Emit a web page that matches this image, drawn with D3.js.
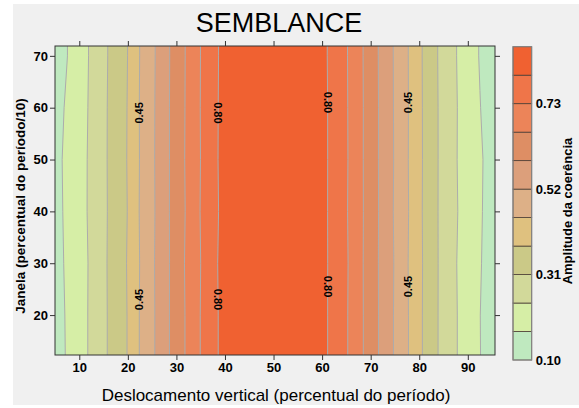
<!DOCTYPE html>
<html>
<head>
<meta charset="utf-8">
<script src="https://cdn.jsdelivr.net/npm/d3@7"></script>
<style>
    body { margin: 0; background: #fff; }
    svg { display: block; font-family: "Liberation Sans", Arial, sans-serif; }
    .axis text { font-size: 13px; font-weight: bold; fill: #000; }
    .axis line { stroke: #333; }
    .axis path { display: none; }
    .clbl { font-size: 11px; font-weight: bold; fill: #000; }
</style>
</head>
<body>
<div id="chart"></div>
<script>
// grid: columns = deslocamento (%), rows = janela
const xCols = [2.5, 5, 7.5, 10, 12.5, 15, 17.5, 20, 22.5, 25, 27.5, 30, 32.5, 35, 37.5, 40, 42.5, 45, 47.5, 50,
    52.5, 55, 57.5, 60, 62.5, 65, 67.5, 70, 72.5, 75, 77.5, 80, 82.5, 85, 87.5, 90, 92.5, 95, 97.5];
const yRows = [10, 20, 30, 40, 50, 60, 70, 80];

const semblance = [
    [0.105,0.140,0.175,0.210,0.253,0.297,0.340,0.383,0.454,0.507,0.566,0.622,0.676,0.732,0.784,0.820,0.840,0.855,0.862,0.865,0.862,0.855,0.840,0.815,0.782,0.736,0.682,0.626,0.570,0.513,0.457,0.395,0.337,0.288,0.245,0.208,0.172,0.135,0.100],
    [0.105,0.140,0.177,0.210,0.253,0.297,0.340,0.383,0.454,0.507,0.566,0.622,0.676,0.732,0.784,0.820,0.840,0.855,0.862,0.865,0.862,0.855,0.840,0.815,0.782,0.736,0.682,0.626,0.570,0.513,0.457,0.395,0.337,0.288,0.245,0.208,0.171,0.135,0.100],
    [0.106,0.142,0.181,0.212,0.251,0.299,0.338,0.385,0.452,0.509,0.564,0.624,0.678,0.730,0.786,0.821,0.841,0.856,0.862,0.865,0.862,0.856,0.841,0.817,0.780,0.738,0.680,0.628,0.568,0.515,0.455,0.397,0.335,0.290,0.243,0.210,0.175,0.137,0.101],
    [0.107,0.145,0.184,0.213,0.255,0.296,0.341,0.382,0.455,0.506,0.567,0.621,0.675,0.733,0.783,0.819,0.840,0.855,0.862,0.865,0.862,0.855,0.840,0.814,0.783,0.735,0.683,0.625,0.571,0.512,0.458,0.394,0.338,0.287,0.246,0.212,0.178,0.139,0.102],
    [0.108,0.147,0.186,0.214,0.254,0.298,0.339,0.384,0.453,0.508,0.565,0.623,0.677,0.731,0.785,0.820,0.841,0.856,0.863,0.866,0.863,0.856,0.841,0.816,0.781,0.737,0.681,0.627,0.569,0.514,0.456,0.396,0.336,0.289,0.244,0.211,0.180,0.140,0.103],
    [0.106,0.143,0.179,0.211,0.252,0.297,0.340,0.383,0.454,0.507,0.566,0.622,0.676,0.732,0.784,0.820,0.840,0.855,0.862,0.865,0.862,0.855,0.840,0.815,0.782,0.736,0.682,0.626,0.570,0.513,0.457,0.395,0.337,0.288,0.245,0.209,0.172,0.136,0.101],
    [0.104,0.137,0.169,0.208,0.250,0.295,0.339,0.381,0.452,0.505,0.565,0.621,0.675,0.731,0.783,0.819,0.840,0.855,0.862,0.865,0.862,0.855,0.840,0.814,0.781,0.735,0.681,0.625,0.569,0.512,0.456,0.394,0.336,0.286,0.243,0.205,0.166,0.132,0.099],
    [0.104,0.137,0.169,0.208,0.250,0.295,0.339,0.381,0.452,0.505,0.565,0.621,0.675,0.731,0.783,0.819,0.840,0.855,0.862,0.865,0.862,0.855,0.840,0.814,0.781,0.735,0.681,0.625,0.569,0.512,0.456,0.394,0.336,0.286,0.243,0.205,0.166,0.132,0.099]
];

const levels = [0.10, 0.17, 0.24, 0.31, 0.38, 0.45, 0.52, 0.59, 0.66, 0.73, 0.80, 0.87];
const levelColors = ["#bfe9bf", "#d6eea6", "#d2d99a", "#cbc987", "#dfc17f", "#ddb087",
    "#dc9f7b", "#de8e64", "#ec8459", "#ef7549", "#f06131"];

const xTicks = [10, 20, 30, 40, 50, 60, 70, 80, 90];
const yTicks = [20, 30, 40, 50, 60, 70];
const barTicks = [0.10, 0.31, 0.52, 0.73];

// labelled contours: which level, which flank, at what janela
const contourLabels = [
    { value: 0.45, side: "left", y: 59 },
    { value: 0.45, side: "left", y: 23 },
    { value: 0.80, side: "left", y: 59 },
    { value: 0.80, side: "left", y: 23 },
    { value: 0.80, side: "right", y: 61 },
    { value: 0.80, side: "right", y: 25.5 },
    { value: 0.45, side: "right", y: 61 },
    { value: 0.45, side: "right", y: 25.5 }
];

class makeContourChart {

    constructor(opts) {
        this.element = opts.element;
        this.draw();
    }

    _setScales() {
        this.plotBox = { left: 55, right: 495, top: 46, bottom: 355 };

        this.xScale = d3.scaleLinear().domain([5, 95.6]).range([this.plotBox.left, this.plotBox.right]);
        this.yScale = d3.scaleLinear().domain([12.3, 71.9]).range([this.plotBox.bottom, this.plotBox.top]);
        this.cScale = d3.scaleLinear().domain([levels[0], levels[levels.length - 1]]).range([360, 46.7]);

        this.xAxis = d3.axisBottom(this.xScale).tickValues(xTicks).tickSize(5).tickPadding(3);
        this.xAxisTop = d3.axisTop(this.xScale).tickValues(xTicks).tickSize(5).tickFormat("");
        this.yAxis = d3.axisLeft(this.yScale).tickValues(yTicks).tickSize(5).tickPadding(2);
        this.yAxisRight = d3.axisRight(this.yScale).tickValues(yTicks).tickSize(5).tickFormat("");
    }

    draw() {
        this._setScales();
        this.element.innerHTML = "";

        this.svg = d3.select(this.element).append("svg")
            .attr("width", 579)
            .attr("height", 408);

        // grey page panel
        this.svg.append("rect")
            .attr("x", 13).attr("y", 4)
            .attr("width", 566).attr("height", 401)
            .attr("fill", "#f0f0f0");

        this.svg.append("text")
            .attr("x", 279).attr("y", 32)
            .attr("text-anchor", "middle")
            .style("font-size", "27px")
            .text("SEMBLANCE");

        this.svg.append("clipPath").attr("id", "plotclip")
            .append("rect")
            .attr("x", this.plotBox.left).attr("y", this.plotBox.top)
            .attr("width", this.plotBox.right - this.plotBox.left)
            .attr("height", this.plotBox.bottom - this.plotBox.top);

        this.drawContours();
        this.drawAxes();
        this.drawColorbar();
    }

    drawContours() {
        let nx = xCols.length, ny = yRows.length;
        let flat = [];
        semblance.forEach(row => row.forEach(v => flat.push(v)));

        let dx = xCols[1] - xCols[0], dy = yRows[1] - yRows[0];
        let xs = this.xScale, ys = this.yScale;
        // d3.contours puts sample i at i + 0.5
        let proj = d3.geoTransform({
            point: function(px, py) {
                this.stream.point(xs(xCols[0] + (px - 0.5) * dx), ys(yRows[0] + (py - 0.5) * dy));
            }
        });
        let path = d3.geoPath(proj);

        let bands = d3.contours().size([nx, ny]).thresholds(levels.slice(0, -1))(flat);

        let g = this.svg.append("g").attr("clip-path", "url(#plotclip)");

        g.selectAll(".band")
            .data(bands)
            .enter().append("path")
            .attr("class", "band")
            .attr("d", path)
            .attr("fill", (d, i) => levelColors[i]);

        g.selectAll(".cline")
            .data(bands.slice(1))
            .enter().append("path")
            .attr("class", "cline")
            .attr("d", path)
            .attr("fill", "none")
            .attr("stroke", "#acacac")
            .attr("stroke-width", 1);

        // labels sit where the level crosses the nearest grid row
        contourLabels.forEach(lb => {
            let j = d3.minIndex(yRows, r => Math.abs(r - lb.y));
            let row = semblance[j];
            let xv = null;
            for (let i = 0; i < nx - 1; i++) {
                let a = row[i], b = row[i + 1];
                let up = lb.side === "left" ? (a < lb.value && b >= lb.value) : (a >= lb.value && b < lb.value);
                if (up) {
                    xv = xCols[i] + (lb.value - a) / (b - a) * dx;
                    break;
                }
            }
            let px = this.xScale(xv), py = this.yScale(lb.y);
            let rot = lb.value > 0.5 ? 90 : -90;
            g.append("text")
                .attr("class", "clbl")
                .attr("transform", `translate(${px},${py}) rotate(${rot})`)
                .attr("text-anchor", "middle")
                .attr("dy", "0.35em")
                .text(lb.value.toFixed(2));
        });

        this.svg.append("rect")
            .attr("x", this.plotBox.left).attr("y", this.plotBox.top)
            .attr("width", this.plotBox.right - this.plotBox.left)
            .attr("height", this.plotBox.bottom - this.plotBox.top)
            .attr("fill", "none")
            .attr("stroke", "#333");
    }

    drawAxes() {
        this.svg.append("g")
            .attr("class", "axis")
            .attr("transform", `translate(0,${this.plotBox.bottom})`)
            .call(this.xAxis);

        this.svg.append("g")
            .attr("class", "axis")
            .attr("transform", `translate(0,${this.plotBox.top})`)
            .call(this.xAxisTop);

        this.svg.append("g")
            .attr("class", "axis")
            .attr("transform", `translate(${this.plotBox.left},0)`)
            .call(this.yAxis);

        this.svg.append("g")
            .attr("class", "axis")
            .attr("transform", `translate(${this.plotBox.right},0)`)
            .call(this.yAxisRight);

        this.svg.append("text")
            .attr("x", 276).attr("y", 401)
            .attr("text-anchor", "middle")
            .style("font-size", "17px")
            .text("Deslocamento vertical (percentual do período)");

        this.svg.append("text")
            .attr("transform", "translate(25,206) rotate(-90)")
            .attr("text-anchor", "middle")
            .style("font-size", "13.5px")
            .style("font-weight", "bold")
            .text("Janela (percentual do período/10)");
    }

    drawColorbar() {
        let bx = 513, bw = 18.7;
        let bar = this.svg.append("g");

        bar.selectAll(".cb")
            .data(levelColors)
            .enter().append("rect")
            .attr("class", "cb")
            .attr("x", bx)
            .attr("y", (d, i) => this.cScale(levels[i + 1]))
            .attr("width", bw)
            .attr("height", (d, i) => this.cScale(levels[i]) - this.cScale(levels[i + 1]))
            .attr("fill", d => d)
            .attr("stroke", "#4d3f36")
            .attr("stroke-width", 0.8);

        bar.append("rect")
            .attr("x", bx).attr("y", this.cScale.range()[1])
            .attr("width", bw)
            .attr("height", this.cScale.range()[0] - this.cScale.range()[1])
            .attr("fill", "none")
            .attr("stroke", "#8a8a8a");

        this.svg.append("g")
            .attr("class", "axis")
            .attr("transform", `translate(${bx + bw},0)`)
            .call(d3.axisRight(this.cScale).tickValues(barTicks).tickSize(0).tickPadding(4).tickFormat(d3.format(".2f")));

        this.svg.append("text")
            .attr("transform", "translate(572,211) rotate(-90)")
            .attr("text-anchor", "middle")
            .style("font-size", "13px")
            .style("font-weight", "bold")
            .text("Amplitude da coerência");
    }
}

new makeContourChart({ element: document.getElementById("chart") });
</script>
</body>
</html>
